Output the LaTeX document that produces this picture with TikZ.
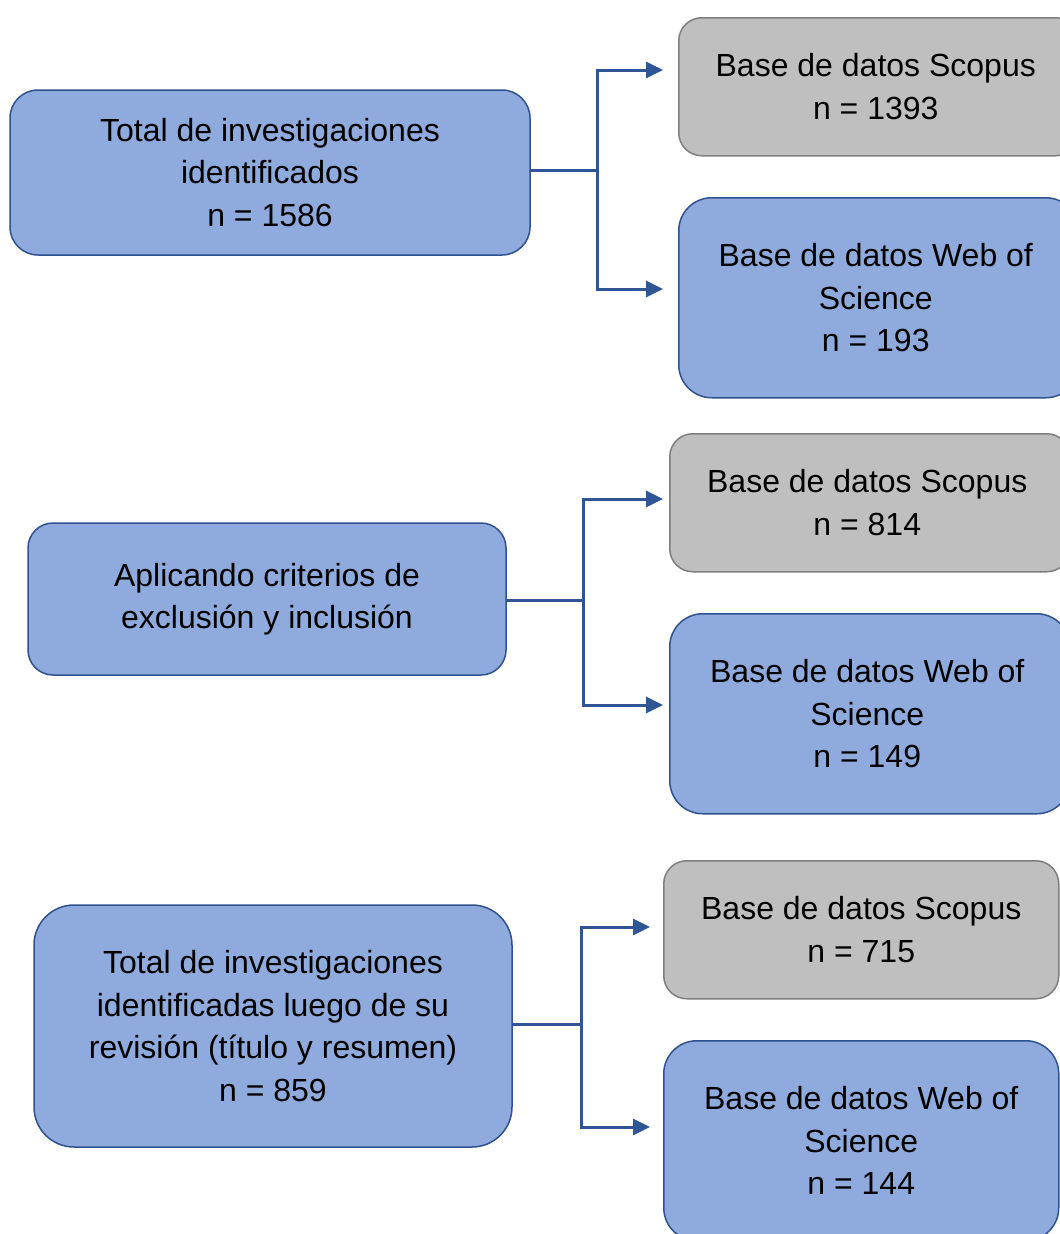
\documentclass[tikz,border=0pt]{standalone}
\usepackage{fontspec}
\setmainfont{Liberation Sans}
\usetikzlibrary{arrows.meta}
\definecolor{boxblue}{HTML}{8FAADC}
\definecolor{boxblueline}{HTML}{2F528F}
\definecolor{boxgray}{HTML}{BFBFBF}
\definecolor{boxgrayline}{HTML}{7F7F7F}
\definecolor{conncol}{HTML}{2F5597}
\begin{document}
\begin{tikzpicture}[x=1pt,y=-1pt,
  every node/.style={font=\fontsize{32}{42.5}\selectfont, align=center, inner sep=0pt, text=black},
  bluebox/.style={draw=boxblueline, fill=boxblue, line width=1.5pt},
  graybox/.style={draw=boxgrayline, fill=boxgray, line width=1.5pt},
  conn/.style={draw=conncol, line width=3pt},
  arr/.style={conn, -{Triangle[length=17pt,width=16pt]}}
]
\useasboundingbox (0,0) rectangle (1060,1234);
\clip (0,0) rectangle (1060,1234);

% Row 1
\node[bluebox, rounded corners=28pt, minimum width=520pt, minimum height=165pt] (L1) at (270,172.5)
  {Total de investigaciones\\identificados\\n = 1586};
\node[graybox, rounded corners=23pt, minimum width=400pt, minimum height=138pt, anchor=north west] (S1) at (678,17)
  {\hspace*{-6pt}Base de datos Scopus\\\hspace*{-6pt}n = 1393};
\node[bluebox, rounded corners=33pt, minimum width=400pt, minimum height=200pt, anchor=north west] (W1) at (678,197)
  {\hspace*{-6pt}Base de datos Web of\\\hspace*{-6pt}Science\\\hspace*{-6pt}n = 193};

% Row 2
\node[bluebox, rounded corners=25pt, minimum width=478pt, minimum height=152pt] (L2) at (267,599)
  {Aplicando criterios de\\exclusión y inclusión};
\node[graybox, rounded corners=23pt, minimum width=400pt, minimum height=138pt, anchor=north west] (S2) at (669,433)
  {\hspace*{-5pt}Base de datos Scopus\\\hspace*{-5pt}n = 814};
\node[bluebox, rounded corners=33pt, minimum width=400pt, minimum height=200pt, anchor=north west] (W2) at (669,613)
  {\hspace*{-5pt}Base de datos Web of\\\hspace*{-5pt}Science\\\hspace*{-5pt}n = 149};

% Row 3
\node[bluebox, rounded corners=40pt, minimum width=478pt, minimum height=242pt] (L3) at (273,1026)
  {Total de investigaciones\\identificadas luego de su\\revisión (título y resumen)\\n = 859};
\node[graybox, rounded corners=23pt, minimum width=395pt, minimum height=138pt, anchor=north west] (S3) at (663,860)
  {Base de datos Scopus\\n = 715};
\node[bluebox, rounded corners=33pt, minimum width=395pt, minimum height=200pt, anchor=north west] (W3) at (663,1040)
  {Base de datos Web of\\Science\\n = 144};

% Connectors
\coordinate (j1) at (597,170);
\coordinate (a1) at (663,70);
\coordinate (b1) at (663,289);
\draw[conn] (L1.east |- j1) -- (j1);
\draw[arr] (j1) |- (a1);
\draw[arr] (j1) |- (b1);

\coordinate (j2) at (583,600);
\coordinate (a2) at (663,499);
\coordinate (b2) at (663,705);
\draw[conn] (L2.east |- j2) -- (j2);
\draw[arr] (j2) |- (a2);
\draw[arr] (j2) |- (b2);

\coordinate (j3) at (581,1024);
\coordinate (a3) at (650,927);
\coordinate (b3) at (650,1127);
\draw[conn] (L3.east |- j3) -- (j3);
\draw[arr] (j3) |- (a3);
\draw[arr] (j3) |- (b3);
\end{tikzpicture}
\end{document}
